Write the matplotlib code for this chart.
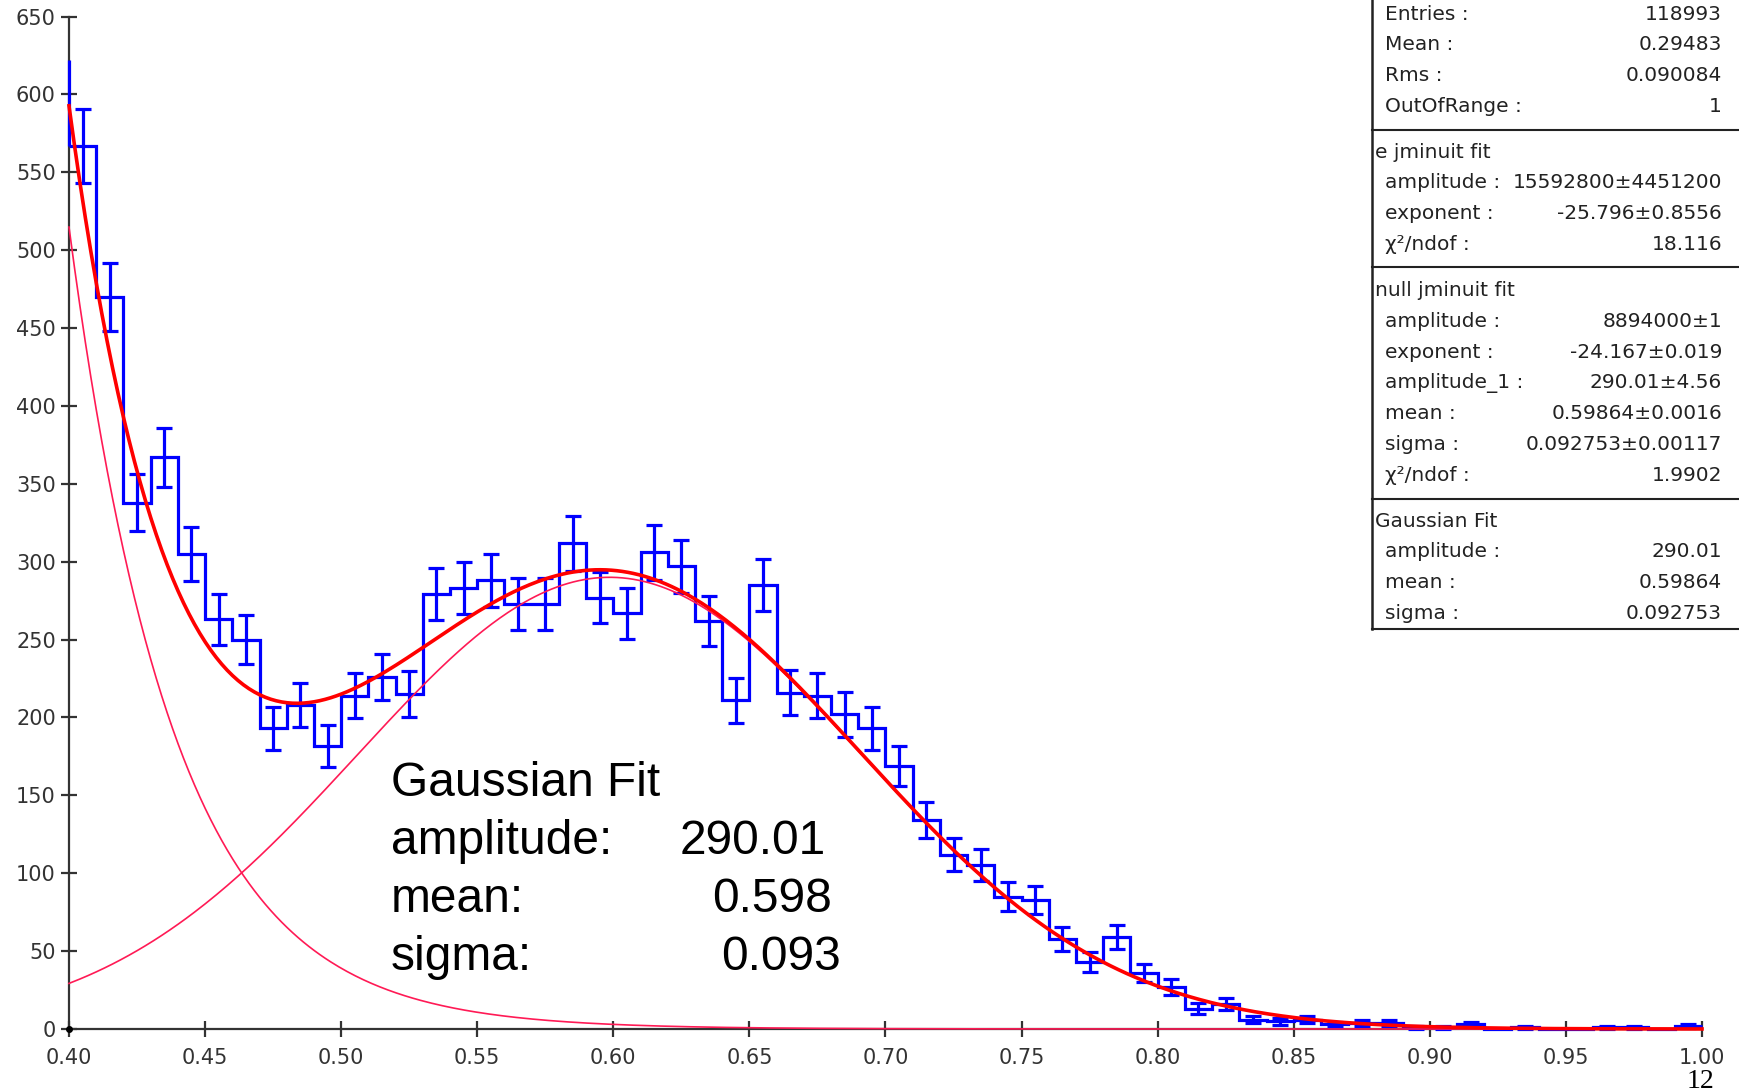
import numpy as np
import matplotlib
matplotlib.use("Agg")
import matplotlib.pyplot as plt

# ---------------- data ----------------
bin_edges_start = 0.40
bin_width = 0.01
prev_bin_count = 622          # bin just left of 0.40 (only its edge is visible)
counts = [567, 470, 338, 367, 305, 263, 250, 193, 208, 182,
          214, 226, 215, 279, 283, 288, 273, 273, 312, 277,
          267, 306, 297, 262, 211, 285, 216, 214, 202, 193,
          169, 134, 112, 105, 85, 83, 58, 43, 59, 36,
          27, 13, 16, 6, 5, 6, 3, 4, 4, 1,
          1, 3, 0, 1, 0, 0, 1, 1, 0, 2]

# fit parameters (from the statistics box)
e_amp, e_exp = 15592800.0, -25.796           # e jminuit fit
n_amp, n_exp = 8894000.0, -24.167            # null jminuit fit (exp part)
g_amp, g_mean, g_sigma = 290.01, 0.59864, 0.092753   # Gaussian part

xticks = [0.40, 0.45, 0.50, 0.55, 0.60, 0.65, 0.70, 0.75, 0.80, 0.85, 0.90, 0.95, 1.00]
xtick_labels = ["0.40", "0.45", "0.50", "0.55", "0.60", "0.65", "0.70",
                "0.75", "0.80", "0.85", "0.90", "0.95", "1.00"]
yticks = list(range(0, 651, 50))

stats_rows = [
    ("item", "Entries :", "118993"),
    ("item", "Mean :", "0.29483"),
    ("item", "Rms :", "0.090084"),
    ("item", "OutOfRange :", "1"),
    ("head", "e jminuit fit", ""),
    ("item", "amplitude :", "15592800±4451200"),
    ("item", "exponent :", "-25.796±0.8556"),
    ("item", "χ²/ndof :", "18.116"),
    ("head", "null jminuit fit", ""),
    ("item", "amplitude :", "8894000±1"),
    ("item", "exponent :", "-24.167±0.019"),
    ("item", "amplitude_1 :", "290.01±4.56"),
    ("item", "mean :", "0.59864±0.0016"),
    ("item", "sigma :", "0.092753±0.00117"),
    ("item", "χ²/ndof :", "1.9902"),
    ("head", "Gaussian Fit", ""),
    ("item", "amplitude :", "290.01"),
    ("item", "mean :", "0.59864"),
    ("item", "sigma :", "0.092753"),
]

note_labels = ["Gaussian Fit", "amplitude:", "mean:", "sigma:"]
note_values = ["", "290.01", "0.598", "0.093"]

# ---------------- figure ----------------
W, H = 1739, 1091
fig = plt.figure(figsize=(W / 100, H / 100), dpi=100)
fig.patch.set_facecolor("white")

def fx(px):
    return px / W

def fy(py):
    return 1 - py / H

ax_left, ax_right = 69, 1702
ax_top, ax_bottom = 16.6, 1029
ax = fig.add_axes([fx(ax_left), fy(ax_bottom), fx(ax_right - ax_left), (ax_bottom - ax_top) / H])
ax.set_xlim(0.40, 1.00)
ax.set_ylim(0, 650)
ax.set_facecolor("none")

counts_arr = np.array(counts, dtype=float)
edges = bin_edges_start + bin_width * np.arange(len(counts) + 1)
centers = 0.5 * (edges[:-1] + edges[1:])

blue = "#0000ff"
ax.stairs(counts_arr, edges, baseline=None, color=blue, lw=2.3, clip_on=False, zorder=3)
ax.vlines(edges[0], counts_arr[0], prev_bin_count, color=blue, lw=2.3, clip_on=False, zorder=3)
nz = counts_arr > 0
ax.errorbar(centers[nz], counts_arr[nz], yerr=np.sqrt(counts_arr[nz]), fmt="none",
            ecolor=blue, elinewidth=2.3, capsize=6, capthick=2.3, clip_on=False, zorder=3)

xs = np.linspace(0.40, 1.00, 600)
e_curve = e_amp * np.exp(e_exp * xs)
g_curve = g_amp * np.exp(-0.5 * ((xs - g_mean) / g_sigma) ** 2)
tot_curve = n_amp * np.exp(n_exp * xs) + g_curve

thin = "#ff1a55"
ax.plot(xs, e_curve, color=thin, lw=1.2, clip_on=False, zorder=4)
ax.plot(xs, g_curve, color=thin, lw=1.2, clip_on=False, zorder=4)
ax.plot(xs, tot_curve, color="#ff0000", lw=2.6, clip_on=False, zorder=5)

# axes styling
for s in ["top", "right"]:
    ax.spines[s].set_visible(False)
for s in ["left", "bottom"]:
    ax.spines[s].set_color("#333333")
    ax.spines[s].set_linewidth(1.6)
ax.set_xticks(xticks)
ax.set_xticklabels(xtick_labels)
ax.set_yticks(yticks)
ax.tick_params(axis="both", direction="inout", length=11, width=1.6, color="#333333",
               labelsize=15, labelcolor="#333333")
ax.tick_params(axis="x", pad=8)
ax.tick_params(axis="y", pad=4)
ax.plot([0.40], [0], marker="o", ms=4, color="black", clip_on=False, zorder=6)

# big annotation
note_y = [783, 841, 899, 957]
value_x = [0, 680, 712, 721]
for lab, val, yy, vx in zip(note_labels, note_values, note_y, value_x):
    fig.text(fx(391), fy(yy), lab, fontsize=34.5, family="Liberation Sans",
             ha="left", va="center", color="black")
    if val:
        fig.text(fx(vx), fy(yy), val, fontsize=34.5, family="Liberation Sans",
                 ha="left", va="center", color="black")

# statistics box
box_left = 1372
row_y0, row_dy = 14, 30.8
sep_after = {3: 130, 7: 267, 14: 499, 18: 629}
lc = "#222222"
fig.add_artist(plt.Line2D([fx(box_left), fx(box_left)], [fy(-5), fy(629)],
                          transform=fig.transFigure, color=lc, lw=1.8))
for yy in sep_after.values():
    fig.add_artist(plt.Line2D([fx(box_left), fx(W + 5)], [fy(yy), fy(yy)],
                              transform=fig.transFigure, color=lc, lw=1.5))
yy = row_y0
section_gap = {4: 15, 8: 15, 15: 15}
for i, (kind, lab, val) in enumerate(stats_rows):
    if i in section_gap:
        yy += section_gap[i]
    xl = box_left + 3 if kind == "head" else box_left + 13
    fig.text(fx(xl), fy(yy), lab, fontsize=14.5, family="DejaVu Sans",
             ha="left", va="center", color="#222222")
    if val:
        fig.text(fx(1722), fy(yy), val, fontsize=14.5, family="DejaVu Sans",
                 ha="right", va="center", color="#222222")
    yy += row_dy

# slide number
fig.text(fx(1714), fy(1081), "12", fontsize=20, family="Liberation Serif",
         ha="right", va="center", color="black")

fig.savefig("out.png", dpi=100, facecolor="white")
